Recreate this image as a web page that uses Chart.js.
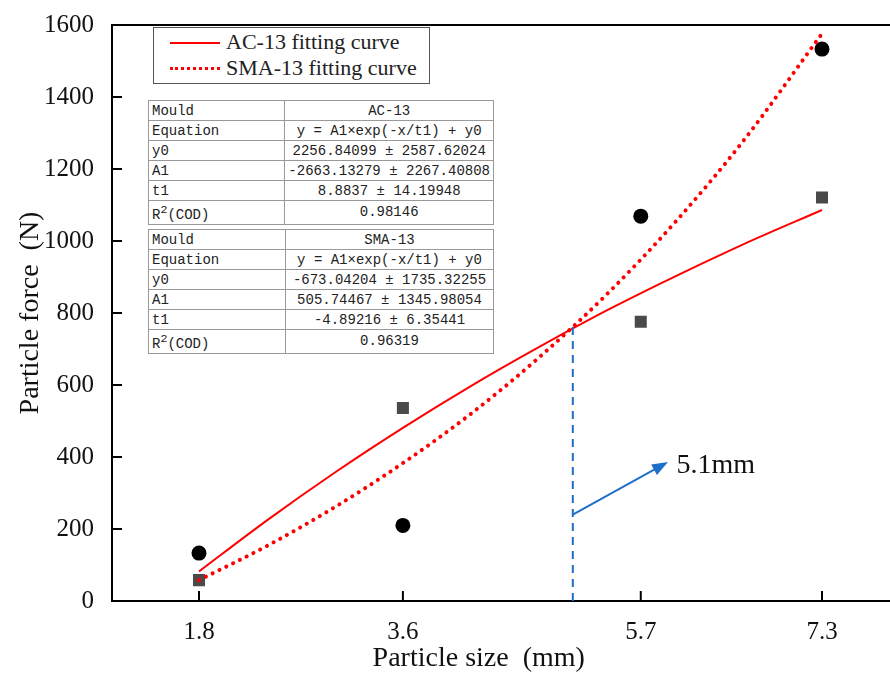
<!DOCTYPE html>
<html>
<head>
<meta charset="utf-8">
<script src="https://cdn.jsdelivr.net/npm/chart.js@4"></script>
<style>
  html, body { margin: 0; background: #fff; overflow: hidden; }
  #wrap { position: relative; width: 890px; height: 675px; overflow: hidden; }
  #myChart { display: block; }
  #legendBox {
    position: absolute; left: 153px; top: 27px; width: 277px; height: 57px;
    border: 1.5px solid #555; background: #fff; box-sizing: border-box;
    font-family: "Liberation Serif", serif; font-size: 22px; color: #222;
  }
  .lrow { position: absolute; left: 0; height: 26px; line-height: 26px; white-space: nowrap; }
  .lsample { position: absolute; left: 16px; width: 50px; }
  .ltext { position: absolute; left: 72px; }
  table.fit {
    position: absolute; left: 148px; width: 346px; border-collapse: collapse;
    font-family: "Liberation Mono", monospace; font-size: 14px; color: #222; background: #fff;
  }
  table.fit td { border: 1px solid #999; height: 19px; padding: 0 3px; line-height: 18px; white-space: nowrap; }
  table.fit td.c { text-align: center; }
  table.fit td.k { width: 130px; }
  table.fit { border: 1.5px solid #777; }
</style>
</head>
<body>
<div id="wrap">
  <canvas id="myChart" width="910" height="675"></canvas>
  <div id="legendBox">
    <div class="lrow" style="top:1px"><div class="lsample" style="top:13px;border-top:2px solid #f00"></div><span class="ltext">AC-13 fitting curve</span></div>
    <div class="lrow" style="top:27px"><div class="lsample" style="top:12px;border-top:3px dotted #f00"></div><span class="ltext">SMA-13 fitting curve</span></div>
  </div>
  <div id="tables"></div>
</div>
<script>
// measured points
const sizes = [1.8, 3.6, 5.7, 7.3];
const acForce = [58, 536, 776, 1121];
const smaForce = [133, 210, 1069, 1533];

// fitted curves
const curveX = [1.8, 2.4, 3.0, 3.6, 4.2, 4.8, 5.4, 6.0, 6.6, 7.3];
const acCurve = [82, 224, 357, 481, 597, 705, 807, 901, 990, 1086];
const smaCurve = [58, 153, 261, 383, 520, 676, 852, 1051, 1276, 1576];

// crossing marker and arrow
const crossX = [5.1, 5.1];
const crossY = [0, 762];
const arrowX = [5.1, 5.91];
const arrowY = [240, 381];
const arrowLabel = "5.1mm";

const yTicks = [0, 200, 400, 600, 800, 1000, 1200, 1400, 1600];

// fit tables
const acTable = [
    ["Mould", "AC-13"],
    ["Equation", "y = A1×exp(-x/t1) + y0"],
    ["y0", "2256.84099 ± 2587.62024"],
    ["A1", "-2663.13279 ± 2267.40808"],
    ["t1", "8.8837 ± 14.19948"],
    ["R<sup>2</sup>(COD)", "0.98146"]
];
const smaTable = [
    ["Mould", "SMA-13"],
    ["Equation", "y = A1×exp(-x/t1) + y0"],
    ["y0", "-673.04204 ± 1735.32255"],
    ["A1", "505.74467 ± 1345.98054"],
    ["t1", "-4.89216 ± 6.35441"],
    ["R<sup>2</sup>(COD)", "0.96319"]
];

function buildTable(rows, top) {
    const t = document.createElement("table");
    t.className = "fit";
    t.style.top = top + "px";
    rows.forEach(r => {
        const tr = document.createElement("tr");
        tr.innerHTML = `<td class="k">${r[0]}</td><td class="c">${r[1].replace(" ± ", "&nbsp;±&nbsp;")}</td>`;
        t.appendChild(tr);
    });
    document.getElementById("tables").appendChild(t);
}
buildTable(acTable, 100);
buildTable(smaTable, 229);

const zip = (xs, ys) => xs.map((x, i) => ({ x: x, y: ys[i] }));

const SERIF = '"Liberation Serif", "Times New Roman", serif';

const framePlugin = {
    id: 'frame',
    afterDraw(chart) {
        const ctx = chart.ctx;
        const xs = chart.scales.x, ys = chart.scales.y;
        const a = chart.chartArea;
        ctx.save();
        ctx.strokeStyle = '#000';
        ctx.lineWidth = 2;
        // top border
        ctx.beginPath();
        ctx.moveTo(a.left, a.top);
        ctx.lineTo(a.right, a.top);
        ctx.stroke();
        // inward ticks
        sizes.forEach(v => {
            const px = xs.getPixelForValue(v);
            ctx.beginPath();
            ctx.moveTo(px, a.bottom);
            ctx.lineTo(px, a.bottom - 10);
            ctx.stroke();
        });
        yTicks.forEach(v => {
            const py = ys.getPixelForValue(v);
            ctx.beginPath();
            ctx.moveTo(a.left, py);
            ctx.lineTo(a.left + 10, py);
            ctx.stroke();
        });
        // arrow head
        const x0 = xs.getPixelForValue(arrowX[0]), y0 = ys.getPixelForValue(arrowY[0]);
        const x1 = xs.getPixelForValue(arrowX[1]), y1 = ys.getPixelForValue(arrowY[1]);
        const ang = Math.atan2(y1 - y0, x1 - x0);
        ctx.fillStyle = '#1f6fc8';
        ctx.beginPath();
        ctx.moveTo(x1 + 4 * Math.cos(ang), y1 + 4 * Math.sin(ang));
        ctx.lineTo(x1 - 12 * Math.cos(ang) - 6 * Math.sin(ang), y1 - 12 * Math.sin(ang) + 6 * Math.cos(ang));
        ctx.lineTo(x1 - 12 * Math.cos(ang) + 6 * Math.sin(ang), y1 - 12 * Math.sin(ang) - 6 * Math.cos(ang));
        ctx.closePath();
        ctx.fill();
        // label
        ctx.fillStyle = '#111';
        ctx.font = '28px ' + SERIF;
        ctx.textAlign = 'left';
        ctx.textBaseline = 'middle';
        ctx.fillText(arrowLabel, x1 + 12, y1 + 2);
        ctx.restore();
    }
};

let ctx = document.getElementById('myChart').getContext('2d');
let chart = new Chart(ctx, {
    type: 'scatter',
    data: {
        datasets: [
            {
                label: 'crossing',
                data: zip(crossX, crossY),
                showLine: true,
                borderColor: '#1f6fc8',
                borderWidth: 2,
                borderDash: [8, 6],
                pointRadius: 0
            },
            {
                label: 'arrow',
                data: zip(arrowX, arrowY),
                showLine: true,
                borderColor: '#1f6fc8',
                borderWidth: 2,
                pointRadius: 0
            },
            {
                label: 'SMA-13 fitting curve',
                data: zip(curveX, smaCurve),
                showLine: true,
                borderColor: '#ff0000',
                borderWidth: 4,
                borderDash: [0.1, 7.5],
                borderCapStyle: 'round',
                cubicInterpolationMode: 'monotone',
                pointRadius: 0
            },
            {
                label: 'AC-13 fitting curve',
                data: zip(curveX, acCurve),
                showLine: true,
                borderColor: '#ff0000',
                borderWidth: 2,
                cubicInterpolationMode: 'monotone',
                pointRadius: 0
            },
            {
                label: 'AC-13',
                data: zip(sizes, acForce),
                pointStyle: 'rect',
                pointRadius: 8.5,
                backgroundColor: '#4a4a4a',
                borderColor: '#4a4a4a',
                borderWidth: 0
            },
            {
                label: 'SMA-13',
                data: zip(sizes, smaForce),
                pointStyle: 'circle',
                pointRadius: 7.5,
                backgroundColor: '#000',
                borderColor: '#000',
                borderWidth: 0
            }
        ]
    },
    options: {
        responsive: false,
        animation: false,
        layout: { padding: { top: 21, right: 0, left: 0, bottom: 0 } },
        plugins: {
            legend: { display: false },
            tooltip: { enabled: false }
        },
        scales: {
            x: {
                type: 'linear',
                min: 1.032,
                max: 8.0,
                afterBuildTicks: scale => { scale.ticks = sizes.map(v => ({ value: v })); },
                afterFit: scale => { scale.height = 74; },
                grid: { display: false },
                border: { display: true, color: '#000', width: 2 },
                ticks: {
                    color: '#111',
                    font: { family: SERIF, size: 25 },
                    padding: 8,
                    maxRotation: 0,
                    callback: v => v.toFixed(1)
                },
                title: {
                    display: true,
                    text: 'Particle size  (mm)        ',
                    color: '#111',
                    font: { family: SERIF, size: 28 },
                    padding: { top: 0, bottom: 0 }
                }
            },
            y: {
                min: 0,
                max: 1600,
                afterBuildTicks: scale => { scale.ticks = yTicks.map(v => ({ value: v })); },
                afterFit: scale => { scale.width = 112; },
                grid: { display: false },
                border: { display: true, color: '#000', width: 2 },
                ticks: {
                    color: '#111',
                    font: { family: SERIF, size: 25 },
                    padding: 10,
                    callback: v => String(v)
                },
                title: {
                    display: true,
                    text: 'Particle force  (N)',
                    color: '#111',
                    font: { family: SERIF, size: 28 },
                    padding: { top: 14, bottom: 0 }
                }
            }
        }
    },
    plugins: [framePlugin]
});

// fit the x range so that 1.8 sits at 199px and 7.3 at 822px, like the original
const area = chart.chartArea;
const pxPerUnit = (822 - 199) / (7.3 - 1.8);
chart.options.scales.x.min = 1.8 - (199 - area.left) / pxPerUnit;
chart.options.scales.x.max = 1.8 + (area.right - 199) / pxPerUnit;
chart.update();
</script>
</body>
</html>
